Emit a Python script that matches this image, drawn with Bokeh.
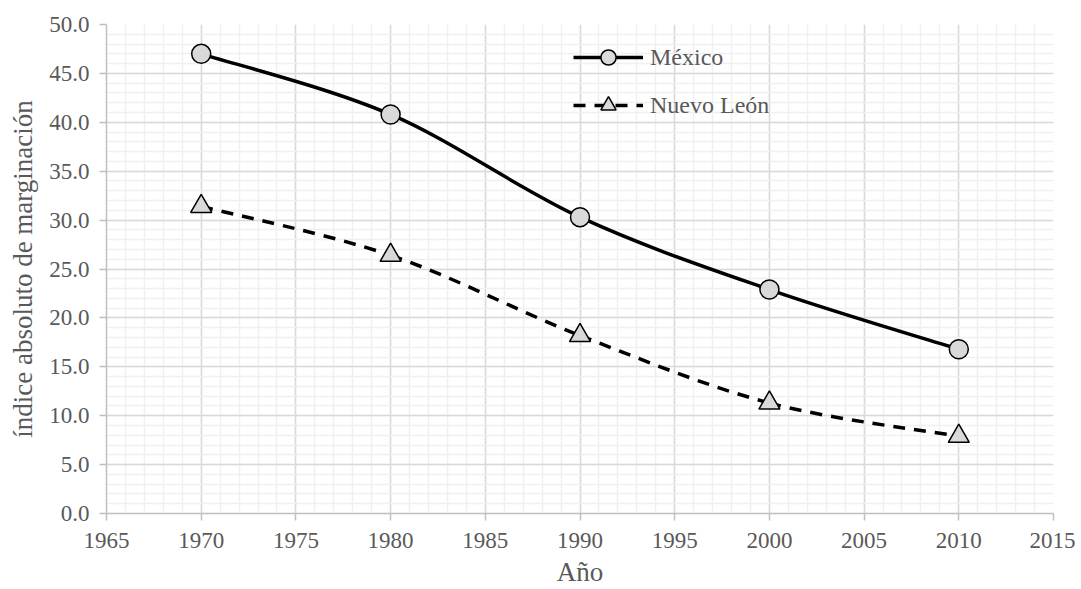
from bokeh.plotting import figure
from bokeh.models import (Range1d, SingleIntervalTicker, NumeralTickFormatter,
                          Legend, LegendItem, ColumnDataSource)
from bokeh.embed import file_html
from bokeh.resources import INLINE

years = [1970, 1980, 1990, 2000, 2010]
mexico = [47.0, 40.8, 30.3, 22.9, 16.8]
nuevo_leon = [31.4, 26.4, 18.2, 11.3, 7.9]

x_min, x_max = 1965, 2015
y_min, y_max = 0, 50

FONT = "Liberation Serif"
GREY_TXT = "#595959"


def bezier_segments(xs, ys):
    # Smoothed line segments (Catmull-Rom style control points, like a spreadsheet "smoothed line")
    n = len(xs)
    d = dict(x0=[], y0=[], x1=[], y1=[], cx0=[], cy0=[], cx1=[], cy1=[])
    for i in range(n - 1):
        xp = xs[i - 1] if i > 0 else xs[i]
        yp = ys[i - 1] if i > 0 else ys[i]
        xn = xs[i + 2] if i + 2 < n else xs[i + 1]
        yn = ys[i + 2] if i + 2 < n else ys[i + 1]
        d["x0"].append(xs[i]); d["y0"].append(ys[i])
        d["x1"].append(xs[i + 1]); d["y1"].append(ys[i + 1])
        d["cx0"].append(xs[i] + (xs[i + 1] - xp) / 6.0)
        d["cy0"].append(ys[i] + (ys[i + 1] - yp) / 6.0)
        d["cx1"].append(xs[i + 1] - (xn - xs[i]) / 6.0)
        d["cy1"].append(ys[i + 1] - (yn - ys[i]) / 6.0)
    return ColumnDataSource(d)


p = figure(width=1075, height=589, output_backend="svg", toolbar_location=None,
           x_range=Range1d(x_min, x_max), y_range=Range1d(y_min, y_max),
           min_border_top=24, min_border_right=22, min_border_left=106, min_border_bottom=76)
p.outline_line_color = None
p.background_fill_color = "white"

p.xaxis.ticker = SingleIntervalTicker(interval=5, num_minor_ticks=5)
p.yaxis.ticker = SingleIntervalTicker(interval=5, num_minor_ticks=5)
p.yaxis.formatter = NumeralTickFormatter(format="0.0")

for ax in (p.xaxis[0], p.yaxis[0]):
    ax.axis_line_color = "#bfbfbf"
    ax.axis_line_width = 1.5
    ax.major_tick_line_color = "#bfbfbf"
    ax.major_tick_line_width = 1.5
    ax.major_tick_out = 7
    ax.major_tick_in = 0
    ax.minor_tick_line_color = None
    ax.major_label_text_font = FONT
    ax.major_label_text_font_size = "23px"
    ax.major_label_text_color = GREY_TXT
    ax.axis_label_text_font = FONT
    ax.axis_label_text_font_size = "27px"
    ax.axis_label_text_color = GREY_TXT
    ax.axis_label_text_font_style = "normal"

p.xaxis.axis_label = "Año"
p.yaxis.axis_label = "índice absoluto de marginación"
p.xaxis.major_label_standoff = 12
p.yaxis.major_label_standoff = 10
p.xaxis.axis_label_standoff = 6
p.yaxis.axis_label_standoff = 8

for g in (p.xgrid[0], p.ygrid[0]):
    g.grid_line_color = "#d9d9d9"
    g.grid_line_width = 1.5
    g.minor_grid_line_color = "#f0f0f0"
    g.minor_grid_line_width = 1.5

# México
mx_line = p.bezier(x0="x0", y0="y0", x1="x1", y1="y1", cx0="cx0", cy0="cy0", cx1="cx1", cy1="cy1",
                   source=bezier_segments(years, mexico), line_color="black", line_width=3.5)
mx_pts = p.scatter(years, mexico, marker="circle", size=19, fill_color="#d9d9d9",
                   line_color="black", line_width=1.5)

# Nuevo León
nl_line = p.bezier(x0="x0", y0="y0", x1="x1", y1="y1", cx0="cx0", cy0="cy0", cx1="cx1", cy1="cy1",
                   source=bezier_segments(years, nuevo_leon), line_color="black", line_width=3.5,
                   line_dash="12 9")
nl_pts = p.scatter(years, nuevo_leon, marker="triangle", size=21, fill_color="#d9d9d9",
                   line_color="black", line_width=1.5)

legend = Legend(items=[
    LegendItem(label="México", renderers=[mx_line, mx_pts]),
    LegendItem(label="Nuevo León", renderers=[nl_line, nl_pts]),
], location=(467, 389))
legend.background_fill_alpha = 0
legend.border_line_color = None
legend.padding = 0
legend.margin = 0
legend.spacing = 10
legend.glyph_width = 70
legend.glyph_height = 38
legend.label_height = 38
legend.label_standoff = 7
legend.label_text_font = FONT
legend.label_text_font_size = "24px"
legend.label_text_color = GREY_TXT
p.add_layout(legend, "center")

open("out.html", "w").write(file_html(p, INLINE))
